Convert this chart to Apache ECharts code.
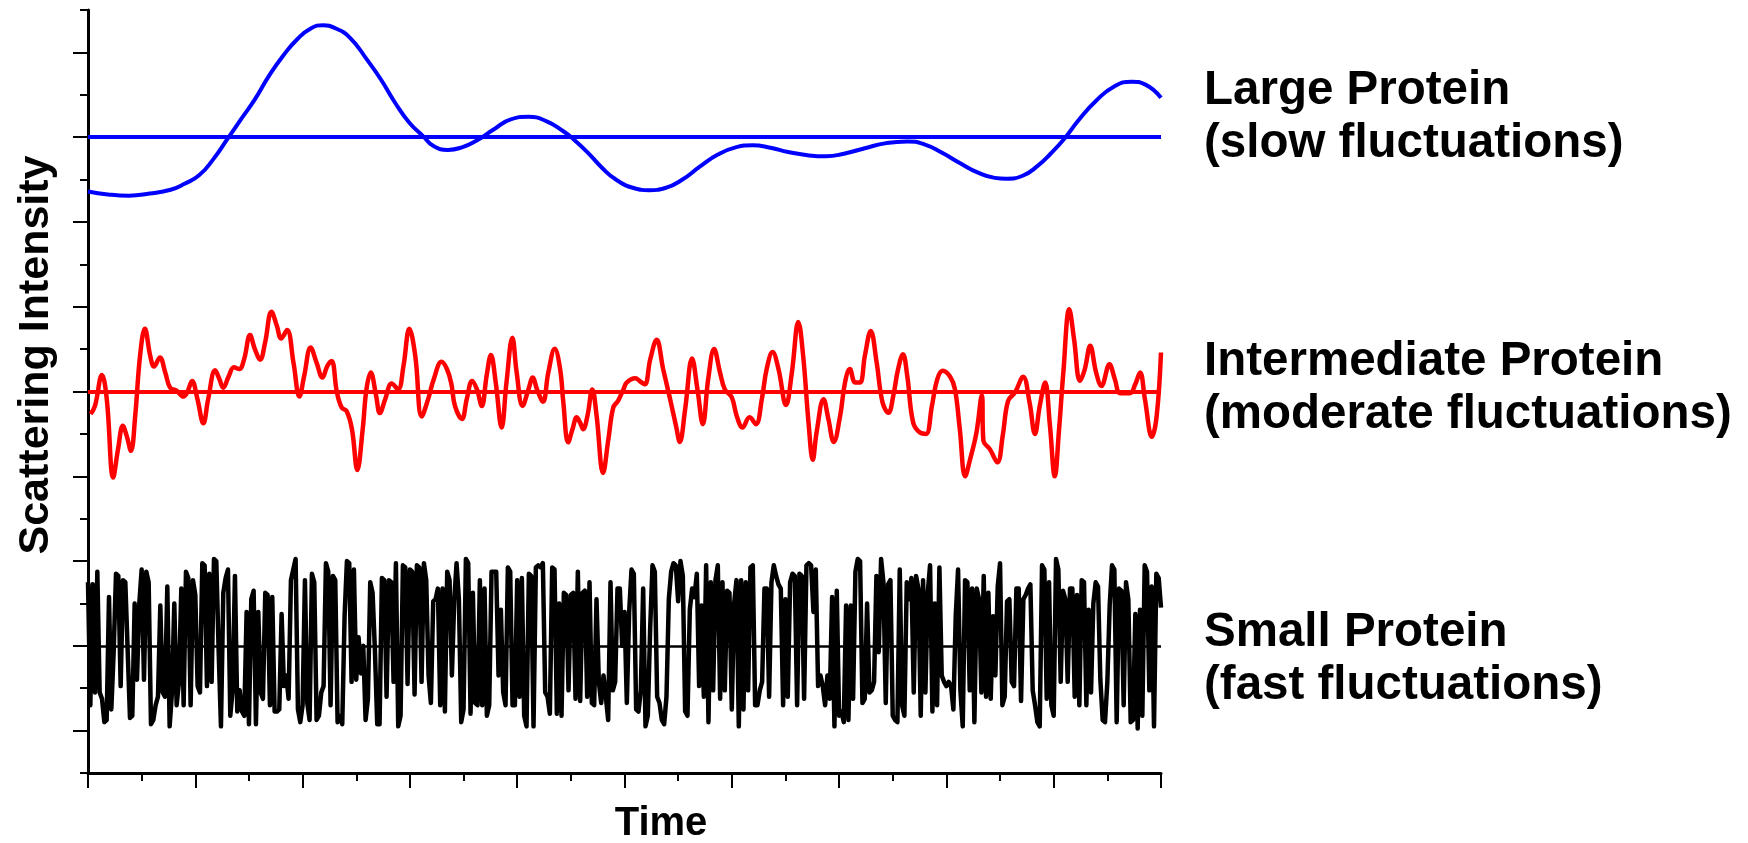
<!DOCTYPE html>
<html>
<head>
<meta charset="utf-8">
<title>Scattering Intensity</title>
<script src="https://cdn.jsdelivr.net/npm/echarts@6/dist/echarts.min.js"></script>
<style>
  html, body { margin: 0; padding: 0; background: #fff; }
  #main { width: 1748px; height: 843px; }
</style>
</head>
<body>
<div id="main"></div>
<script>
// large protein - slow fluctuations (blue)
var largeTime = [0, 0.37, 0.76, 1.15, 1.54, 1.80, 2.07, 2.33, 2.59, 2.85, 3.11, 3.37, 3.63, 3.90, 4.16, 4.38, 4.61, 4.88, 5.20, 5.46, 5.73, 5.99, 6.25, 6.44, 6.71, 6.97, 7.23, 7.56, 7.88, 8.21, 8.54, 8.86, 9.06, 9.32, 9.58, 9.84, 10.17, 10.46, 10.76, 11.08, 11.41, 11.74, 12.07, 12.39, 12.72, 13.05, 13.44, 13.76, 14.09, 14.48, 14.88, 15.27, 15.59, 15.92, 16.25, 16.58, 16.90, 17.12, 17.42, 17.69, 17.95, 18.21, 18.47, 18.80, 19.12, 19.45, 19.71, 20.0];
var largeVal = [13.72, 13.65, 13.62, 13.67, 13.76, 13.90, 14.10, 14.47, 14.94, 15.42, 15.89, 16.44, 16.91, 17.31, 17.57, 17.64, 17.57, 17.35, 16.83, 16.36, 15.80, 15.34, 15.02, 14.79, 14.70, 14.76, 14.91, 15.18, 15.42, 15.48, 15.38, 15.14, 14.94, 14.63, 14.28, 14.00, 13.80, 13.75, 13.80, 14.00, 14.31, 14.59, 14.76, 14.81, 14.75, 14.65, 14.57, 14.55, 14.61, 14.74, 14.86, 14.90, 14.83, 14.63, 14.39, 14.17, 14.04, 14.02, 14.09, 14.31, 14.62, 14.98, 15.41, 15.87, 16.19, 16.31, 16.24, 15.93];
var largeBase = 15;

// intermediate protein - moderate fluctuations (red)
var midTime = [0.05, 0.13, 0.26, 0.35, 0.47, 0.56, 0.65, 0.72, 0.80, 0.88, 0.97, 1.06, 1.16, 1.23, 1.34, 1.44, 1.53, 1.65, 1.78, 1.85, 1.94, 2.04, 2.15, 2.24, 2.37, 2.45, 2.52, 2.62, 2.72, 2.82, 2.91, 3.02, 3.11, 3.21, 3.30, 3.42, 3.52, 3.60, 3.71, 3.83, 3.94, 4.03, 4.15, 4.26, 4.37, 4.46, 4.54, 4.64, 4.73, 4.82, 4.92, 5.02, 5.12, 5.19, 5.27, 5.37, 5.44, 5.54, 5.66, 5.78, 5.88, 5.99, 6.10, 6.22, 6.34, 6.44, 6.59, 6.69, 6.77, 6.84, 6.97, 7.06, 7.16, 7.25, 7.34, 7.43, 7.51, 7.60, 7.71, 7.80, 7.91, 7.99, 8.10, 8.21, 8.29, 8.37, 8.48, 8.58, 8.70, 8.80, 8.86, 8.95, 9.03, 9.11, 9.17, 9.23, 9.31, 9.40, 9.48, 9.60, 9.70, 9.79, 9.88, 9.98, 10.04, 10.20, 10.30, 10.38, 10.48, 10.60, 10.72, 10.85, 10.96, 11.03, 11.13, 11.26, 11.36, 11.46, 11.56, 11.67, 11.78, 11.87, 12.00, 12.09, 12.20, 12.33, 12.45, 12.56, 12.65, 12.76, 12.87, 13.01, 13.12, 13.24, 13.33, 13.43, 13.51, 13.58, 13.71, 13.80, 13.90, 14.02, 14.11, 14.20, 14.30, 14.39, 14.48, 14.59, 14.70, 14.81, 14.92, 15.01, 15.10, 15.19, 15.27, 15.38, 15.51, 15.62, 15.73, 15.83, 15.93, 16.07, 16.16, 16.25, 16.35, 16.44, 16.56, 16.66, 16.69, 16.81, 16.95, 17.05, 17.15, 17.28, 17.43, 17.55, 17.65, 17.74, 17.84, 17.93, 18.02, 18.10, 18.18, 18.29, 18.38, 18.49, 18.58, 18.68, 18.79, 18.89, 19.04, 19.14, 19.24, 19.42, 19.52, 19.61, 19.70, 19.83, 19.92, 20.0];
var midVal = [8.47, 8.66, 9.39, 8.82, 6.97, 7.64, 8.19, 7.96, 7.6, 8.43, 9.84, 10.48, 9.84, 9.59, 9.8, 9.45, 9.09, 9.02, 8.88, 8.98, 9.25, 8.82, 8.25, 8.82, 9.5, 9.29, 9.09, 9.35, 9.57, 9.53, 9.76, 10.33, 10.0, 9.75, 10.15, 10.88, 10.55, 10.25, 10.45, 9.68, 8.88, 9.37, 10.04, 9.68, 9.33, 9.6, 9.72, 8.98, 8.62, 8.54, 8.11, 7.15, 8.11, 9.05, 9.45, 8.9, 8.49, 8.82, 9.19, 9.05, 9.6, 10.48, 9.84, 8.41, 8.82, 9.27, 9.7, 9.53, 9.2, 8.66, 8.35, 8.82, 9.25, 9.05, 8.66, 9.37, 9.86, 9.21, 8.15, 9.21, 10.27, 9.45, 8.66, 9.05, 9.33, 9.05, 8.76, 9.45, 10.01, 9.53, 8.74, 7.8, 8.11, 8.39, 8.27, 8.11, 8.43, 9.05, 8.43, 7.08, 7.88, 8.62, 8.78, 9.05, 9.21, 9.31, 9.23, 9.17, 9.76, 10.22, 9.53, 8.82, 8.19, 7.81, 8.58, 9.78, 9.05, 8.23, 9.29, 10.0, 9.45, 9.05, 8.86, 8.43, 8.15, 8.39, 8.23, 8.82, 9.53, 9.93, 9.53, 8.68, 9.45, 10.64, 9.84, 8.27, 7.39, 8.03, 8.82, 8.35, 7.81, 8.43, 9.21, 9.53, 9.21, 9.21, 9.84, 10.43, 9.68, 8.74, 8.5, 8.9, 9.53, 9.88, 9.37, 8.27, 8.03, 8.0, 8.66, 9.29, 9.49, 9.35, 9.05, 8.11, 7.0, 7.39, 8.03, 8.91, 7.84, 7.64, 7.33, 7.96, 8.78, 8.98, 9.35, 8.74, 8.0, 8.66, 9.21, 8.19, 7.0, 8.11, 9.45, 10.94, 10.23, 9.25, 9.53, 10.08, 9.45, 9.13, 9.64, 9.29, 8.96, 8.96, 9.17, 9.45, 8.82, 7.93, 8.43, 9.92];
var midBase = 9;

// small protein - fast fluctuations (black), evenly sampled over the time axis
var smallVal = [
  4.5, 1.6, 4.45, 1.9, 4.75, 1.9, 1.75, 1.2, 1.25, 4.15, 1.5, 2.85, 4.7, 4.65, 2.05, 4.55, 4.5, 2.9, 1.3, 1.35,
  4.0, 2.2, 4.0, 4.8, 2.2, 4.75, 4.5, 1.15, 1.25, 1.6, 1.8, 3.95, 1.9, 1.8, 4.4, 1.1, 1.9, 4.0, 1.6, 2.15,
  4.35, 1.6, 4.75, 4.6, 1.6, 4.55, 4.2, 2.05, 1.9, 4.95, 4.9, 2.05, 4.7, 2.15, 5.05, 5.0, 2.9, 1.1, 4.25, 4.6,
  4.8, 1.35, 1.95, 4.65, 1.45, 1.95, 1.45, 1.35, 3.8, 1.15, 4.1, 4.3, 1.15, 3.8, 1.9, 1.75, 4.25, 4.2, 1.6, 4.15,
  1.45, 1.45, 1.5, 3.75, 2.05, 2.3, 1.75, 4.55, 4.8, 5.05, 1.5, 1.2, 1.6, 4.55, 1.65, 1.25, 4.7, 4.5, 1.25, 1.35,
  1.9, 2.05, 4.95, 4.75, 1.6, 4.65, 4.55, 1.2, 1.35, 1.15, 3.7, 5.0, 4.95, 2.15, 4.8, 2.2, 3.2, 2.35, 3.0, 1.25,
  1.75, 4.5, 4.25, 2.9, 1.15, 1.15, 4.6, 4.55, 1.8, 4.55, 4.5, 2.15, 4.95, 1.1, 1.35, 4.9, 4.85, 2.1, 4.8, 4.75,
  1.85, 4.9, 4.85, 2.15, 4.95, 4.55, 2.3, 1.65, 4.05, 4.1, 4.35, 1.6, 4.35, 1.45, 4.75, 4.55, 2.3, 4.05, 4.95, 4.1,
  1.2, 1.5, 5.05, 4.95, 1.4, 4.25, 1.65, 1.6, 4.55, 1.6, 4.35, 1.35, 1.6, 4.75, 4.75, 4.75, 2.3, 3.85, 1.9, 1.6,
  4.85, 4.75, 1.6, 1.6, 4.55, 1.8, 4.6, 1.35, 1.1, 4.7, 4.65, 1.1, 4.85, 4.9, 4.85, 4.95, 1.9, 1.8, 1.4, 4.85,
  4.8, 1.4, 4.0, 1.35, 4.25, 4.2, 1.95, 4.2, 4.25, 1.75, 4.75, 1.7, 4.25, 4.3, 1.8, 4.5, 1.65, 1.6, 4.1, 2.15,
  1.65, 2.3, 1.8, 1.25, 4.5, 1.95, 2.15, 4.35, 4.35, 3.0, 3.8, 1.65, 3.8, 4.8, 4.7, 1.5, 1.45,
  1.95, 4.35, 1.1, 1.35, 3.4, 4.9, 4.75, 1.8, 1.65, 1.25, 1.15, 1.8, 4.1, 4.75, 4.95, 4.9, 4.05, 5.0, 4.65, 1.45,
  1.35, 3.85, 4.35, 4.15, 4.7, 2.05, 3.95, 1.8, 4.9, 1.2, 4.5, 1.95, 4.55, 4.9, 1.75, 4.5, 1.95, 4.3, 4.25, 1.5,
  4.0, 4.55, 1.1, 4.55, 1.5, 4.5, 1.95, 4.85, 4.9, 1.6, 1.6, 1.95, 2.15, 4.35, 4.35, 1.8, 4.5, 4.9, 4.65, 4.45,
  4.35, 1.6, 4.1, 1.8, 4.5, 4.7, 4.65, 1.6, 4.7, 4.65, 1.75, 4.9, 4.95, 4.9, 3.8, 4.8, 2.05, 2.3, 2.05, 1.6,
  2.3, 1.75, 4.15, 1.1, 4.3, 1.35, 1.45, 1.2, 3.95, 1.25, 3.95, 1.75, 4.75, 5.05, 5.0, 1.65, 1.75, 4.0, 1.9, 1.95,
  2.15, 4.65, 2.85, 5.05, 4.5, 1.65, 4.45, 4.55, 1.35, 1.25, 1.2, 4.8, 1.6, 1.35, 4.5, 4.1, 4.6, 1.9, 4.65,
  4.35, 1.35, 4.55, 1.9, 4.25, 4.9, 1.45, 4.0, 1.6, 4.85, 2.3, 2.15, 2.05, 2.15, 2.05, 1.5, 3.7, 4.8, 1.95, 1.1,
  4.55, 4.5, 1.95, 4.35, 1.2, 4.35, 4.1, 1.9, 4.65, 1.8, 4.25, 1.75, 3.7, 2.3, 4.4, 4.95, 1.6, 1.8, 4.05, 4.1,
  2.15, 2.05, 4.35, 4.35, 1.7, 4.1, 4.2, 4.35, 4.45, 1.95, 1.6, 1.2, 1.1, 4.9, 4.8, 1.75, 4.5, 1.6, 1.35, 5.05,
  4.8, 2.15, 4.3, 4.1, 2.15, 4.35, 4.35, 1.8, 4.2, 1.6, 4.55, 4.5, 1.6, 3.85, 1.9, 4.0, 4.5, 4.4, 2.2, 1.25,
  1.2, 2.15, 3.95, 4.9, 4.8, 1.2, 4.35, 4.3, 1.6, 4.5, 4.1, 1.2, 1.25, 3.75, 1.05, 3.85, 1.35, 4.9, 4.75, 1.95,
  4.4, 1.1, 4.7, 4.6, 3.9
];
var smallBase = 3;

var labelFont = 'bold 43px "Liberation Sans", Arial, sans-serif';
var timeFont = 'bold 40px "Liberation Sans", Arial, sans-serif';
var sideFont = 'bold 47.5px "Liberation Sans", Arial, sans-serif';

function pairs(ts, vs) {
  var out = [];
  for (var i = 0; i < vs.length; i++) {
    out.push([ts[i], vs[i]]);
  }
  return out;
}

// even spacing for the fast trace
var smallData = [];
for (var i = 0; i < smallVal.length; i++) {
  smallData.push([i * 20 / (smallVal.length - 1), smallVal[i]]);
}

function baseLine(value, color, width) {
  return {
    silent : true,
    symbol : 'none',
    label : { show : false },
    lineStyle : { color : color, width : width, type : 'solid' },
    data : [ { yAxis : value } ]
  };
}

let myChart = echarts.init(document.getElementById('main'));
myChart.setOption({
  animation : false,
  backgroundColor : '#fff',
  grid : { left : 88, right : 587, top : 10, bottom : 70 },
  xAxis : {
    type : 'value',
    min : 0,
    max : 20,
    interval : 2,
    axisLine : { show : true, lineStyle : { color : '#000', width : 3 } },
    axisTick : { show : true, length : 15, lineStyle : { color : '#000', width : 2 } },
    minorTick : { show : true, splitNumber : 2, length : 8, lineStyle : { color : '#000', width : 2 } },
    axisLabel : { show : false },
    splitLine : { show : false }
  },
  yAxis : {
    type : 'value',
    min : 0,
    max : 18,
    interval : 2,
    axisLine : { show : true, lineStyle : { color : '#000', width : 3 } },
    // even values get the short ticks, odd ones the long ticks
    axisTick : { show : true, length : 8, lineStyle : { color : '#000', width : 2 } },
    minorTick : { show : true, splitNumber : 2, length : 15, lineStyle : { color : '#000', width : 2 } },
    axisLabel : { show : false },
    splitLine : { show : false }
  },
  series : [
    {
      name : 'Small Protein',
      type : 'line',
      data : smallData,
      showSymbol : false,
      lineStyle : { color : '#000', width : 4.5, join : 'round' },
      markLine : baseLine(smallBase, '#000', 2.5)
    },
    {
      name : 'Intermediate Protein',
      type : 'line',
      data : pairs(midTime, midVal),
      smooth : 0.4,
      showSymbol : false,
      lineStyle : { color : '#ff0000', width : 4.5 },
      markLine : baseLine(midBase, '#ff0000', 4)
    },
    {
      name : 'Large Protein',
      type : 'line',
      data : pairs(largeTime, largeVal),
      smooth : 0.5,
      showSymbol : false,
      lineStyle : { color : '#0000ff', width : 4 },
      markLine : baseLine(largeBase, '#0000ff', 4)
    }
  ],
  graphic : [
    { type : 'text', x : 36, y : 355, rotation : Math.PI / 2,
      style : { text : 'Scattering Intensity', font : labelFont, fill : '#000', align : 'center', verticalAlign : 'middle' } },
    { type : 'text', x : 661, y : 824,
      style : { text : 'Time', font : timeFont, fill : '#000', align : 'center', verticalAlign : 'middle' } },
    { type : 'text', x : 1204, y : 91,
      style : { text : 'Large Protein', font : sideFont, fill : '#000', align : 'left', verticalAlign : 'middle' } },
    { type : 'text', x : 1204, y : 144,
      style : { text : '(slow fluctuations)', font : sideFont, fill : '#000', align : 'left', verticalAlign : 'middle' } },
    { type : 'text', x : 1204, y : 362,
      style : { text : 'Intermediate Protein', font : sideFont, fill : '#000', align : 'left', verticalAlign : 'middle' } },
    { type : 'text', x : 1204, y : 415,
      style : { text : '(moderate fluctuations)', font : sideFont, fill : '#000', align : 'left', verticalAlign : 'middle' } },
    { type : 'text', x : 1204, y : 633,
      style : { text : 'Small Protein', font : sideFont, fill : '#000', align : 'left', verticalAlign : 'middle' } },
    { type : 'text', x : 1204, y : 686,
      style : { text : '(fast fluctuations)', font : sideFont, fill : '#000', align : 'left', verticalAlign : 'middle' } }
  ]
});
</script>
</body>
</html>
